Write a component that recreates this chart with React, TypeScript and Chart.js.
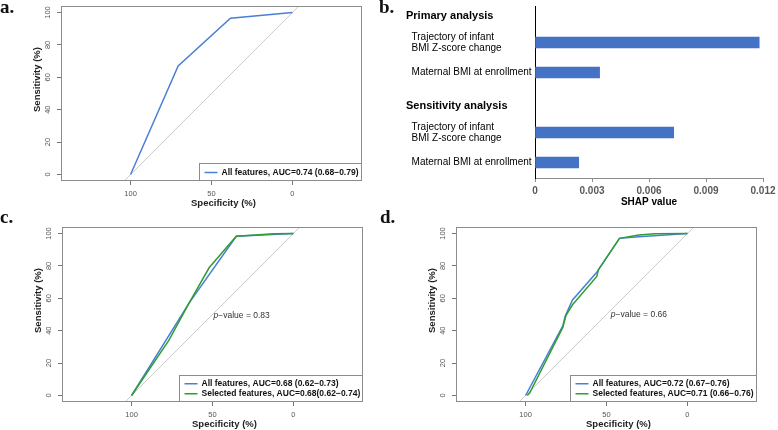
import React, { useEffect, useRef } from "react";
import { Chart, registerables } from "chart.js";

Chart.register(...registerables);

const FONT = '"Liberation Sans", Arial, Helvetica, sans-serif';
Chart.defaults.font.family = FONT;

// ---------- ROC data (specificity %, sensitivity %) ----------
const rocXTicks = [100, 50, 0];
const rocYTicks = [0, 20, 40, 60, 80, 100];
const chanceSpec = [104, -4];
const chanceSens = [-4, 104];

const aAllSpec = [100, 70.6, 38.3, 0];
const aAllSens = [0, 67, 96.5, 100];

const cAllSpec = [100, 64.5, 35.3, 0];
const cAllSens = [0, 57, 98.3, 100];
const cSelSpec = [100, 77, 64.5, 52, 35.3, 12, 0];
const cSelSens = [0, 34, 57, 79, 98.3, 99.8, 100];

const dAllSpec = [100, 77, 75.5, 71, 56, 54.5, 42, 30, 0];
const dAllSens = [0, 43, 49, 59, 76, 78.5, 97, 98, 100];
const dSelSpec = [99, 97.5, 77, 75, 71, 56, 55, 42, 30, 20, 0];
const dSelSens = [0, 1.5, 42, 49.5, 56, 73.5, 77.5, 97, 99, 99.8, 100];

const legendA = ["All features, AUC=0.74 (0.68\u22120.79)"];
const legendC = ["All features, AUC=0.68 (0.62\u22120.73)", "Selected features, AUC=0.68(0.62\u22120.74)"];
const legendD = ["All features, AUC=0.72 (0.67\u22120.76)", "Selected features, AUC=0.71 (0.66\u22120.76)"];
const pValueC = "0.83";
const pValueD = "0.66";

// ---------- SHAP data ----------
const shapLabels: (string | string[])[] = [
  "Primary analysis",
  ["Trajectory of infant", "BMI Z-score change"],
  "Maternal BMI at enrollment",
  "Sensitivity analysis",
  ["Trajectory of infant", "BMI Z-score change"],
  "Maternal BMI at enrollment",
];
const shapIsHeader = [true, false, false, true, false, false];
const shapValues: (number | null)[] = [null, 0.0118, 0.0034, null, 0.0073, 0.0023];
const shapTicks = [0, 0.003, 0.006, 0.009, 0.012];

const BLUE = "#4a7fd6";
const GREEN = "#2f9e32";
const FRAME = "#8c8c8c";
const HEADER_NUDGE = 0.13;

function pts(xs: number[], ys: number[]) {
  return xs.map((x, i) => ({ x, y: ys[i] }));
}

function makeRocDecor(o: any) {
  return {
    id: "rocDecor",
    afterDraw(chart: any) {
      const { ctx, chartArea: a, scales } = chart;
      ctx.save();
      ctx.strokeStyle = FRAME;
      ctx.lineWidth = 1;
      ctx.strokeRect(Math.round(a.left) + 0.5, Math.round(a.top) + 0.5, Math.round(a.right - a.left) - 1, Math.round(a.bottom - a.top) - 1);

      if (o.pValue) {
        const x = scales.x.getPixelForValue(o.pPos[0]);
        const y = scales.y.getPixelForValue(o.pPos[1]);
        const it = "italic 8.5px " + FONT;
        const nf = "8.5px " + FONT;
        ctx.fillStyle = "#333";
        ctx.textBaseline = "middle";
        ctx.textAlign = "left";
        ctx.font = it;
        const pw = ctx.measureText("p").width;
        ctx.font = nf;
        const rest = "\u2212value = " + o.pValue;
        const rw = ctx.measureText(rest).width;
        const x0 = x - (pw + rw) / 2;
        ctx.font = it;
        ctx.fillText("p", x0, y);
        ctx.font = nf;
        ctx.fillText(rest, x0 + pw, y);
      }

      const n = o.legend.length;
      ctx.font = "bold 8.5px " + FONT;
      let maxW = 0;
      o.legend.forEach((t: string) => (maxW = Math.max(maxW, ctx.measureText(t).width)));
      const boxW = 22 + maxW + 3;
      const boxH = n === 1 ? 18 : 26.5;
      const right = Math.round(a.right) - 0.5;
      const bottom = Math.round(a.bottom) - 0.5;
      const left = Math.round(right - boxW) + 0.5;
      const top = Math.round(bottom - boxH) + 0.5;
      ctx.fillStyle = "#fff";
      ctx.fillRect(left, top, right - left, bottom - top);
      ctx.strokeStyle = FRAME;
      ctx.strokeRect(left, top, right - left, bottom - top);
      const first = top + (boxH - 10 * (n - 1)) / 2;
      o.legend.forEach((t: string, i: number) => {
        const y = first + i * 10;
        ctx.strokeStyle = o.colors[i];
        ctx.lineWidth = 1.5;
        ctx.beginPath();
        ctx.moveTo(left + 5, y);
        ctx.lineTo(left + 18, y);
        ctx.stroke();
        ctx.fillStyle = "#111";
        ctx.textAlign = "left";
        ctx.textBaseline = "middle";
        ctx.fillText(t, left + 22, y);
      });

      ctx.fillStyle = "#222";
      ctx.font = "bold 9.5px " + FONT;
      ctx.textAlign = "center";
      ctx.textBaseline = "middle";
      ctx.fillText("Specificity (%)", (a.left + a.right) / 2 + 12, a.bottom + 22);
      ctx.translate(a.left - 24, (a.top + a.bottom) / 2 - 14);
      ctx.rotate(-Math.PI / 2);
      ctx.fillText("Sensitivity (%)", 0, 0);
      ctx.restore();
    },
  };
}

function rocConfig(o: any) {
  const datasets: any[] = o.series.map((s: any, i: number) => ({
    data: pts(s.spec, s.sens),
    borderColor: s.color,
    backgroundColor: s.color,
    borderWidth: 1.5,
    pointRadius: 0,
    showLine: true,
    tension: 0,
    order: o.series.length - i,
  }));
  datasets.push({
    data: pts(chanceSpec, chanceSens),
    borderColor: "#cacaca",
    borderWidth: 1,
    pointRadius: 0,
    showLine: true,
    order: 10,
  });
  const grid = { display: true, drawOnChartArea: false, drawTicks: true, tickLength: 4, color: "#777" };
  return {
    type: "scatter",
    data: { datasets },
    options: {
      responsive: false,
      maintainAspectRatio: false,
      animation: false,
      devicePixelRatio: 1,
      events: [],
      layout: { padding: { left: 0, top: o.top, right: o.right, bottom: 0 } },
      plugins: { legend: { display: false }, tooltip: { enabled: false } },
      scales: {
        x: {
          type: "linear",
          reverse: true,
          min: -43,
          max: 143,
          afterBuildTicks: (s: any) => {
            s.ticks = rocXTicks.map((v) => ({ value: v }));
          },
          afterFit: (s: any) => {
            s.height = o.xHeight;
            s.paddingLeft = 0;
            s.paddingRight = 0;
          },
          grid,
          border: { display: false },
          ticks: { color: "#555", font: { size: 7.5 }, padding: 4, maxRotation: 0, autoSkip: false, callback: (v: any) => String(v) },
        },
        y: {
          type: "linear",
          min: -4,
          max: 104,
          afterBuildTicks: (s: any) => {
            s.ticks = rocYTicks.map((v) => ({ value: v }));
          },
          afterFit: (s: any) => {
            s.width = o.yWidth;
            s.paddingTop = 0;
            s.paddingBottom = 0;
          },
          grid,
          border: { display: false },
          ticks: {
            color: "#555",
            font: { size: 7.5 },
            padding: 3,
            minRotation: 90,
            maxRotation: 90,
            crossAlign: "center",
            autoSkip: false,
            callback: (v: any) => String(v),
          },
        },
      },
    },
    plugins: [makeRocDecor(o)],
  };
}

function shapConfig() {
  const data: any[] = [];
  shapValues.forEach((v, i) => {
    if (v != null) data.push({ x: v, y: i });
  });
  return {
    type: "bar",
    data: {
      datasets: [
        {
          data,
          backgroundColor: "#4472c4",
          borderWidth: 0,
          barThickness: 11,
        },
      ],
    },
    options: {
      indexAxis: "y",
      responsive: false,
      maintainAspectRatio: false,
      animation: false,
      devicePixelRatio: 1,
      events: [],
      layout: { padding: { left: 26, top: 6, right: 15, bottom: 0 } },
      plugins: { legend: { display: false }, tooltip: { enabled: false } },
      scales: {
        x: {
          type: "linear",
          min: 0,
          max: 0.012,
          offset: false,
          afterBuildTicks: (s: any) => {
            s.ticks = shapTicks.map((v) => ({ value: v }));
          },
          afterFit: (s: any) => {
            s.height = 37;
            s.paddingLeft = 0;
            s.paddingRight = 0;
          },
          grid: { display: true, drawOnChartArea: false, drawTicks: true, tickLength: 4, color: "#8c8c8c", offset: false },
          border: { display: true, color: "#8c8c8c" },
          ticks: {
            color: "#595959",
            font: { size: 10, weight: "bold" },
            padding: 3,
            maxRotation: 0,
            autoSkip: false,
            callback: (v: any) => String(v),
          },
          title: {
            display: true,
            text: "SHAP value",
            color: "#000",
            font: { size: 10, weight: "bold" },
            padding: { top: 0, bottom: 7 },
          },
        },
        y: {
          type: "linear",
          reverse: true,
          offset: false,
          min: -0.217,
          max: 5.517,
          afterBuildTicks: (s: any) => {
            s.ticks = shapLabels.map((_, i) => ({ value: i + (shapIsHeader[i] ? HEADER_NUDGE : 0) }));
          },
          afterFit: (s: any) => {
            s.width = 129;
            s.paddingTop = 0;
            s.paddingBottom = 0;
          },
          grid: { display: false, offset: false },
          border: { display: true, color: "#000", width: 1 },
          ticks: {
            crossAlign: "far",
            autoSkip: false,
            color: "#000",
            font: (ctx: any) =>
              shapIsHeader[ctx.index]
                ? { size: 11, weight: "bold", lineHeight: 1.1 }
                : { size: 10, weight: "normal", lineHeight: 1.1 },
            callback: (v: any) => {
              const i = Math.round(v);
              const lab = shapLabels[i];
              if (shapIsHeader[i]) return lab;
              return Array.isArray(lab) ? lab.map((l) => "  " + l) : "  " + lab;
            },
          },
        },
      },
    },
  };
}

function ChartBox(props: { make: () => any; left: number; top: number; width: number; height: number }) {
  const ref = useRef<HTMLCanvasElement | null>(null);
  useEffect(() => {
    const chart = new Chart(ref.current as HTMLCanvasElement, props.make());
    return () => chart.destroy();
  }, []);
  const { left, top, width, height } = props;
  return (
    <div style={{ position: "absolute", left, top, width, height }}>
      <canvas ref={ref} width={width} height={height} style={{ display: "block", width, height }} />
    </div>
  );
}

const labelStyle = (left: number, top: number): React.CSSProperties => ({
  position: "absolute",
  left,
  top,
  fontFamily: '"Liberation Serif", "Times New Roman", serif',
  fontWeight: "bold",
  fontSize: 19,
  lineHeight: "19px",
  color: "#111",
});

export default function App() {
  return (
    <div style={{ position: "absolute", left: 0, top: 0, width: 778, height: 430, background: "#fff", overflow: "hidden" }}>
      <ChartBox
        left={0}
        top={0}
        width={380}
        height={215}
        make={() =>
          rocConfig({
            series: [{ spec: aAllSpec, sens: aAllSens, color: BLUE }],
            legend: legendA,
            colors: [BLUE],
            top: 6,
            right: 18,
            yWidth: 61,
            xHeight: 34,
          })
        }
      />
      <ChartBox left={380} top={0} width={398} height={215} make={shapConfig} />
      <ChartBox
        left={0}
        top={215}
        width={380}
        height={215}
        make={() =>
          rocConfig({
            series: [
              { spec: cAllSpec, sens: cAllSens, color: BLUE },
              { spec: cSelSpec, sens: cSelSens, color: GREEN },
            ],
            legend: legendC,
            colors: [BLUE, GREEN],
            pValue: pValueC,
            pPos: [32, 49],
            top: 12,
            right: 17,
            yWidth: 62,
            xHeight: 28,
          })
        }
      />
      <ChartBox
        left={390}
        top={215}
        width={388}
        height={215}
        make={() =>
          rocConfig({
            series: [
              { spec: dAllSpec, sens: dAllSens, color: BLUE },
              { spec: dSelSpec, sens: dSelSens, color: GREEN },
            ],
            legend: legendD,
            colors: [BLUE, GREEN],
            pValue: pValueD,
            pPos: [30, 50],
            top: 12,
            right: 21,
            yWidth: 66,
            xHeight: 28,
          })
        }
      />
      <div style={labelStyle(0, -3)}>a.</div>
      <div style={labelStyle(379, -3)}>b.</div>
      <div style={labelStyle(0, 207)}>c.</div>
      <div style={labelStyle(380, 207)}>d.</div>
    </div>
  );
}
